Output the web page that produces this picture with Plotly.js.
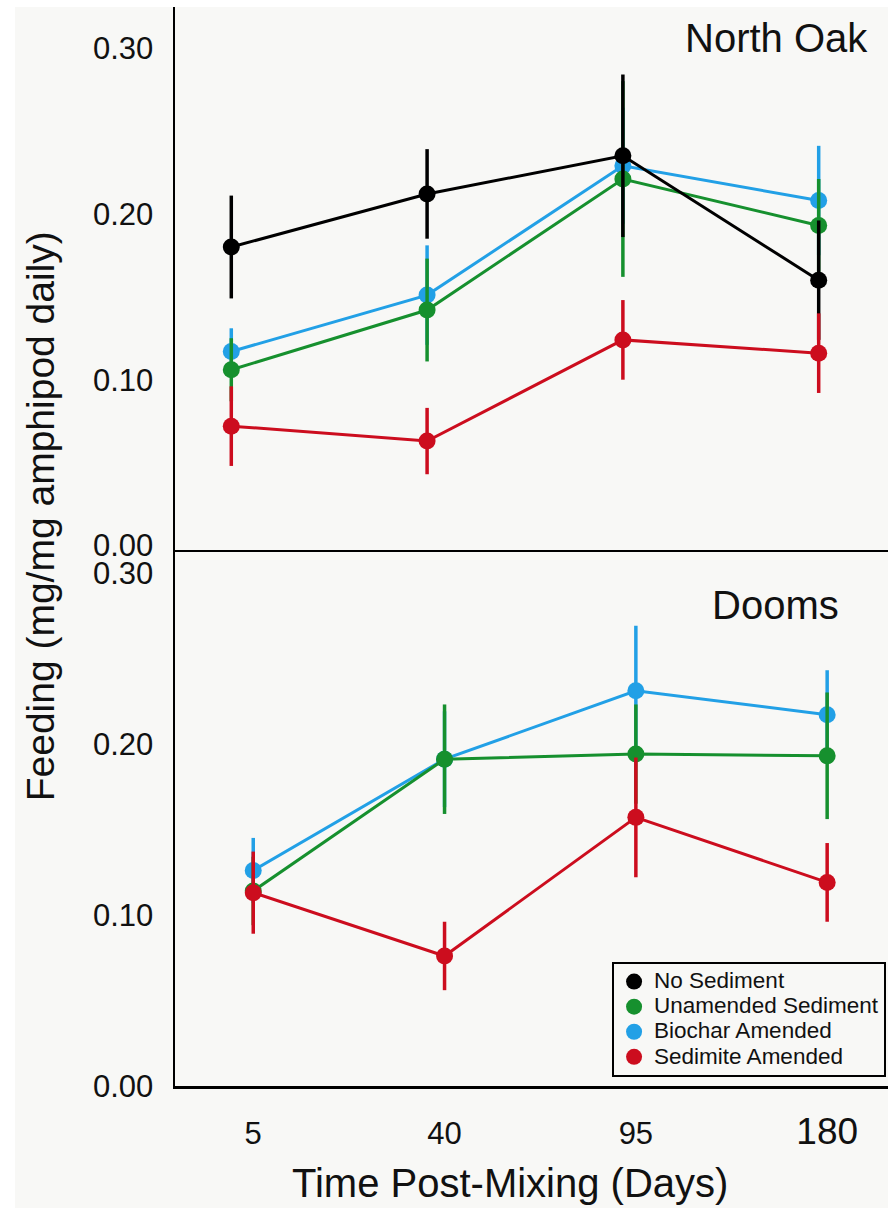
<!DOCTYPE html>
<html>
<head>
<meta charset="utf-8">
<script src="https://cdn.plot.ly/plotly-3.0.1.min.js"></script>
<style>
  html, body { margin: 0; padding: 0; background: #ffffff; }
  #chart { position: absolute; left: 15px; top: 7px; width: 873px; height: 1201px; }
</style>
</head>
<body>
<div id="chart"></div>
<script>
// ---- Data ----
const days = ['5', '40', '95', '180'];
const dayLabels = ['5', '40', '95', '<span style="font-size:37px">180</span>'];
const seriesNames = ['No Sediment', 'Unamended Sediment', 'Biochar Amended', 'Sedimite Amended'];
const seriesColors = ['#000000', '#16902e', '#22a0e6', '#cc0d1e'];

// North Oak (top panel)
const noSedNorthOak     = [0.180, 0.212, 0.235, 0.160];
const noSedNorthOakErr  = [0.031, 0.027, 0.049, 0.036];
const unamNorthOak      = [0.106, 0.142, 0.221, 0.193];
const unamNorthOakErr   = [0.019, 0.031, 0.059, 0.028];
const bioNorthOak       = [0.117, 0.151, 0.229, 0.208];
const bioNorthOakErr    = [0.014, 0.030, 0.035, 0.033];
const sedNorthOak       = [0.072, 0.063, 0.124, 0.116];
const sedNorthOakErr    = [0.024, 0.020, 0.024, 0.024];

// Dooms (bottom panel)
const unamDooms     = [0.114, 0.191, 0.194, 0.193];
const unamDoomsErr  = [0.020, 0.032, 0.029, 0.037];
const bioDooms      = [0.126, 0.191, 0.231, 0.217];
const bioDoomsErr   = [0.019, 0.028, 0.038, 0.026];
const sedDooms      = [0.113, 0.076, 0.157, 0.119];
const sedDoomsErr   = [0.024, 0.020, 0.035, 0.023];

const yTickVals = [0, 0.1, 0.2, 0.3];
const yTickText = ['0.00', '0.10', '0.20', '0.30'];

// ---- Build traces ----
const FONT = 'Liberation Sans, Arial, Helvetica, sans-serif';
const traces = [];
function addSeries(idx, y, err, xa, ya, legend) {
  const color = seriesColors[idx];
  traces.push({
    type: 'scatter', mode: 'lines', x: days, y: y, xaxis: xa, yaxis: ya,
    line: { color: color, width: 3 }, showlegend: false, hoverinfo: 'skip'
  });
  traces.push({
    type: 'scatter', mode: 'markers', x: days, y: y, xaxis: xa, yaxis: ya,
    name: '<span style="font-size:22.5px">' + seriesNames[idx] + '</span>',
    legendrank: idx + 1, showlegend: legend,
    marker: { color: color, size: 17, symbol: 'circle' },
    error_y: { type: 'data', array: err, visible: true, color: color, thickness: 3.5, width: 0 }
  });
}
// drawing order: biochar, unamended, no sediment, sedimite
addSeries(2, bioNorthOak, bioNorthOakErr, 'x', 'y', true);
addSeries(1, unamNorthOak, unamNorthOakErr, 'x', 'y', true);
addSeries(0, noSedNorthOak, noSedNorthOakErr, 'x', 'y', true);
addSeries(3, sedNorthOak, sedNorthOakErr, 'x', 'y', true);

addSeries(2, bioDooms, bioDoomsErr, 'x2', 'y2', false);
addSeries(1, unamDooms, unamDoomsErr, 'x2', 'y2', false);
addSeries(3, sedDooms, sedDoomsErr, 'x2', 'y2', false);

const axisLine = { showline: true, linecolor: '#000000', linewidth: 2.5, showgrid: false, zeroline: false, mirror: false };

const layout = {
  width: 873, height: 1201,
  margin: { l: 160, r: 0, t: 0, b: 122, pad: 0 },
  paper_bgcolor: '#f8f8f6', plot_bgcolor: '#f8f8f6',
  font: { family: FONT, color: '#111111' },
  showlegend: true,
  xaxis: Object.assign({}, axisLine, {
    domain: [0, 1], anchor: 'y', type: 'category', categoryorder: 'array', categoryarray: days,
    range: [-0.2875, 3.354], showticklabels: false, ticks: ''
  }),
  yaxis: Object.assign({}, axisLine, {
    domain: [0.4968, 1], anchor: 'x', range: [-0.00265, 0.3247],
    tickvals: yTickVals, ticktext: yTickText, ticks: '', ticklabelstandoff: 13,
    tickfont: { family: FONT, size: 31, color: '#111111' }
  }),
  xaxis2: Object.assign({}, axisLine, {
    domain: [0, 1], anchor: 'y2', type: 'category', categoryorder: 'array', categoryarray: days,
    range: [-0.409, 3.318], ticks: '', tickvals: days, ticktext: dayLabels,
    ticklabelstandoff: 18,
    tickfont: { family: FONT, size: 31, color: '#111111' }
  }),
  yaxis2: Object.assign({}, axisLine, {
    domain: [0, 0.4968], anchor: 'x2', range: [0, 0.3133],
    tickvals: yTickVals, ticktext: yTickText, ticks: '', ticklabelstandoff: 13,
    tickfont: { family: FONT, size: 31, color: '#111111' }
  }),
  legend: {
    x: 0.613, y: 0.1149, xanchor: 'left', yanchor: 'top',
    bgcolor: '#f8f8f6', bordercolor: '#000000', borderwidth: 2,
    font: { family: FONT, size: 17, color: '#111111' },
    traceorder: 'normal'
  },
  annotations: [
    { text: 'North Oak', xref: 'x domain', yref: 'y domain', x: 0.844, y: 0.942,
      xanchor: 'center', yanchor: 'middle', showarrow: false,
      font: { family: FONT, size: 40, color: '#111111' } },
    { text: 'Dooms', xref: 'x2 domain', yref: 'y2 domain', x: 0.842, y: 0.897,
      xanchor: 'center', yanchor: 'middle', showarrow: false,
      font: { family: FONT, size: 40, color: '#111111' } },
    { text: 'Feeding (mg/mg amphipod daily)', xref: 'paper', yref: 'paper', x: -0.1893, y: 0.528,
      xanchor: 'center', yanchor: 'middle', textangle: -90, showarrow: false,
      font: { family: FONT, size: 39, color: '#111111' } },
    { text: 'Time Post-Mixing (Days)', xref: 'paper', yref: 'paper', x: 0.47, y: -0.0898,
      xanchor: 'center', yanchor: 'middle', showarrow: false,
      font: { family: FONT, size: 40, color: '#111111' } }
  ]
};

Plotly.newPlot('chart', traces, layout, { displayModeBar: false, staticPlot: true });
</script>
</body>
</html>
